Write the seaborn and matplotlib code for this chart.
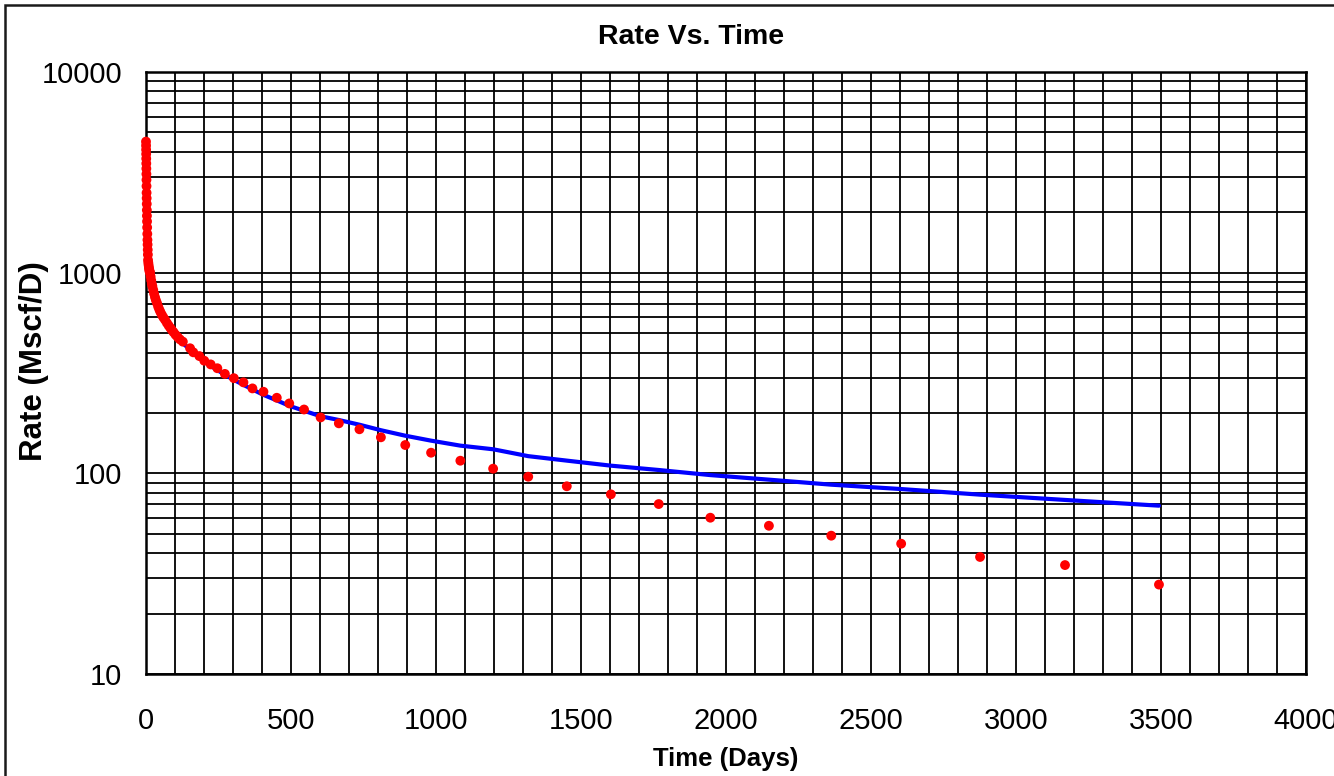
import matplotlib
matplotlib.use("Agg")
import matplotlib.pyplot as plt
from matplotlib.ticker import MultipleLocator, LogLocator, NullFormatter, FixedLocator, FixedFormatter
from matplotlib.patches import Rectangle
import numpy as np
import pandas as pd
import seaborn as sns

# ---------------- data ----------------
time_days = [0, 0.2, 0.4, 0.6, 0.8, 1.0, 1.2, 1.4, 1.6, 1.8, 2.0, 2.3, 2.6, 2.9, 3.2, 3.6,
             4.0, 4.5, 5.0, 5.5, 6.0, 6.5, 7.0, 8, 9, 10, 11, 12, 13, 14, 16, 18, 20, 22,
             25, 28, 31, 34, 38, 42, 46, 50, 55, 60, 66, 72, 78, 84, 89, 95, 102, 109, 117,
             127, 152, 163, 184, 201, 223, 246, 272, 303, 336, 367, 405, 451, 494, 545, 602,
             665, 736, 810, 894, 983, 1084, 1197, 1318, 1451, 1603, 1768, 1946, 2148, 2363,
             2604, 2876, 3169, 3493]

rate_measured = [4500, 4300, 4100, 3900, 3700, 3500, 3300, 3100, 2900, 2700, 2500, 2350, 2200,
                 2050, 1920, 1800, 1680, 1560, 1456, 1380, 1300, 1230, 1156, 1120, 1090, 1060,
                 1040, 1020, 1008, 996, 955, 915, 880, 855, 820, 785, 755, 730, 705, 677, 655,
                 635, 615, 598, 581, 562, 545, 530, 518, 505, 490, 478, 465,
                 453, 420, 401, 384, 364, 349, 334, 313, 298, 284, 265, 255, 238, 223, 208, 190,
                 177.5, 165.8, 151.2, 138.4, 126.7, 115.6, 105.5, 96.2, 86.2, 78.6, 70.3, 60.1,
                 54.8, 48.9, 44.6, 38.3, 34.9, 27.9]

rate_fit = [4500, 4300, 4100, 3900, 3700, 3500, 3300, 3100, 2900, 2700, 2500, 2350, 2200,
            2050, 1920, 1800, 1680, 1560, 1456, 1380, 1300, 1230, 1156, 1110, 1075, 1045,
            1025, 1000, 988, 975, 935, 900, 865, 838, 805, 770, 740, 715, 690, 665, 643,
            623, 603, 587, 569, 551, 535, 520, 508, 495, 481, 469, 456,
            445, 413, 398, 375, 360, 343, 327, 310, 292, 276, 262, 246, 231, 217, 205, 192.5,
            184.4, 174.7, 164, 154, 145.5, 137.4, 131.8, 121.8, 115.7, 109.2, 103.9, 98,
            93, 87.8, 83.5, 78.3, 73.7, 69]

x_ticks = [0, 500, 1000, 1500, 2000, 2500, 3000, 3500, 4000]
x_tick_labels = ["0", "500", "1000", "1500", "2000", "2500", "3000", "3500", "4000"]
y_ticks = [10, 100, 1000, 10000]
y_tick_labels = ["10", "100", "1000", "10000"]

title = "Rate Vs. Time"
x_label = "Time (Days)"
y_label = "Rate (Mscf/D)"

df = pd.DataFrame({"t": time_days, "q": rate_measured, "fit": rate_fit})

# ---------------- styling ----------------
sns.set_theme(style="white")
plt.rcParams['font.family'] = ['Liberation Sans', 'DejaVu Sans']

W, H = 1334, 776
fig = plt.figure(figsize=(W / 100, H / 100), dpi=100)
fig.patch.set_facecolor("white")
ax = fig.add_axes([146 / W, 1 - 674 / H, (1306 - 146) / W, (674 - 72) / H])
ax.set_facecolor("white")

sns.lineplot(data=df, x="t", y="fit", ax=ax, color="#0000FF", linewidth=3.0, zorder=3,
             estimator=None, sort=False)
sns.scatterplot(data=df, x="t", y="q", ax=ax, color="#FF0000", s=50, edgecolor="none",
                linewidth=0, zorder=4, clip_on=False)

ax.set_yscale("log")
ax.set_xlim(0, 4000)
ax.set_ylim(10, 10000)

ax.xaxis.set_major_locator(FixedLocator(x_ticks))
ax.xaxis.set_major_formatter(FixedFormatter(x_tick_labels))
ax.xaxis.set_minor_locator(MultipleLocator(100))
ax.yaxis.set_major_locator(FixedLocator(y_ticks))
ax.yaxis.set_major_formatter(FixedFormatter(y_tick_labels))
ax.yaxis.set_minor_locator(LogLocator(base=10, subs=np.arange(2, 10)))
ax.yaxis.set_minor_formatter(NullFormatter())

ax.grid(True, which="both", axis="both", color="black", linewidth=1.3, zorder=1)
ax.set_axisbelow(True)

ax.tick_params(axis="both", which="major", direction="out", length=8, width=1.3,
               color="black", labelsize=21, labelcolor="black")
ax.tick_params(axis="both", which="minor", length=0)
ax.tick_params(axis="x", which="major", pad=16)
ax.tick_params(axis="y", which="major", pad=9)

for s in ax.spines.values():
    s.set_visible(True)
    s.set_color("black")
    s.set_linewidth(1.8)

ax.set_xlabel(x_label, fontsize=18.5, fontweight="bold", color="black")
ax.set_ylabel(y_label, fontsize=22.5, fontweight="bold", color="black")
ax.xaxis.set_label_coords(0.5, -0.121)
ax.yaxis.set_label_coords(-0.084, 0.52)

fig.text(691 / W, 1 - 37 / H, title, ha="center", va="center", fontsize=20.5,
         fontweight="bold", color="black")

# chart-area border
fig.add_artist(Rectangle((5 / W, -0.01), 1.05, 1 - 5 / H + 0.01, transform=fig.transFigure,
                         fill=False, edgecolor="#1a1a1a", linewidth=1.8))

fig.savefig("out.png", dpi=100, facecolor="white")
